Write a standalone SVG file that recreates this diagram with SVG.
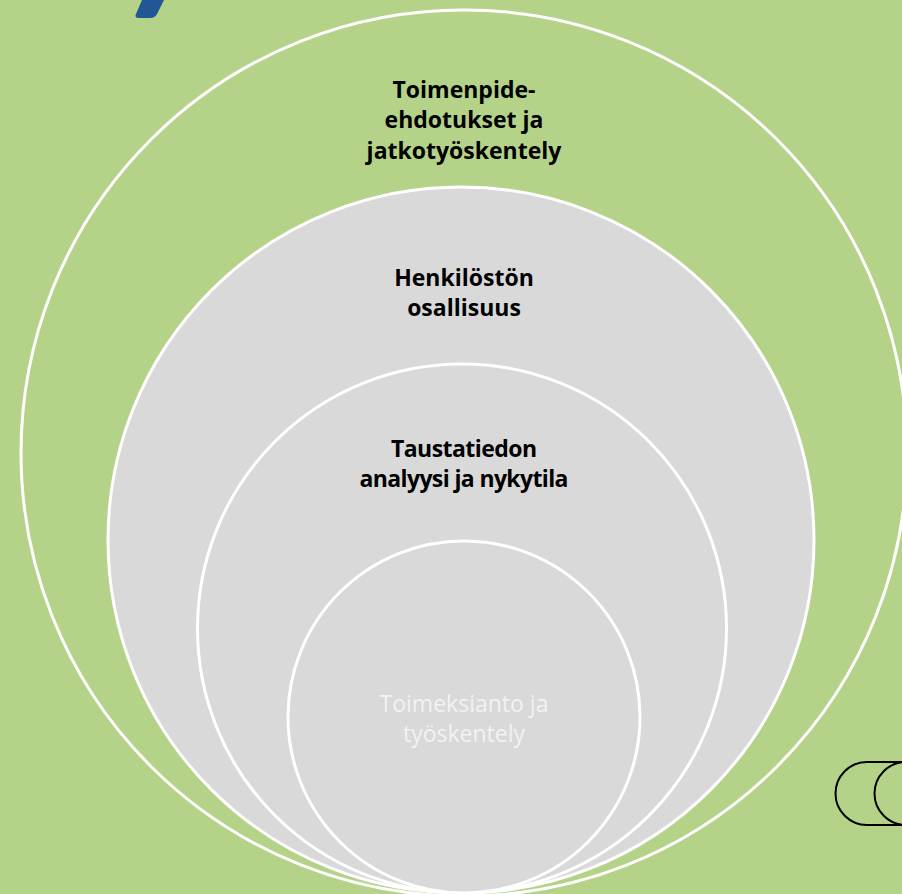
<svg xmlns="http://www.w3.org/2000/svg" width="902" height="894" viewBox="0 0 902 894">
<style>
.ring{stroke:#ffffff;stroke-width:3}
.lbl{font-family:"Open Sans","Liberation Sans",sans-serif;font-size:23px;font-weight:700;fill:#000;text-anchor:middle}
.lbl2{font-family:"Open Sans","Liberation Sans",sans-serif;font-size:23px;font-weight:400;fill:#f2f2f2;text-anchor:middle}
</style>
<rect x="0" y="0" width="902" height="894" fill="#b4d389"/>
<path d="M142,0 L164,0 L157,14 Q155,18 150,18 L139,18 Q134,18 136,14 Z" fill="#215795"/>
<g id="node-outer">
<circle class="ring" cx="464" cy="453" r="443" fill="#b4d389"/>
<text class="lbl" x="464" y="98">Toimenpide-</text>
<text class="lbl" x="464" y="128">ehdotukset ja</text>
<text class="lbl" x="464" y="159">jatkotyöskentely</text>
</g>
<g id="node-2">
<circle class="ring" cx="461" cy="540" r="353" fill="#d9d9d9"/>
<text class="lbl" x="464" y="286">Henkilöstön</text>
<text class="lbl" x="464" y="316">osallisuus</text>
</g>
<g id="node-3">
<circle class="ring" cx="462" cy="628.5" r="264.5" fill="#d9d9d9"/>
<text class="lbl" x="464" y="457" textLength="146">Taustatiedon</text>
<text class="lbl" x="464" y="487" textLength="209">analyysi ja nykytila</text>
</g>
<g id="node-4">
<circle class="ring" cx="464" cy="717" r="176" fill="#d9d9d9"/>
<text class="lbl2" x="464" y="712">Toimeksianto ja</text>
<text class="lbl2" x="464" y="742">työskentely</text>
</g>
<g id="connectors"></g>
<g id="deco" fill="none" stroke="#000" stroke-width="2">
<path d="M903,762 L867,762 A31.5,31.5 0 0 0 867,825 L903,825"/>
<path d="M906,762 A31.5,31.5 0 0 0 906,825"/>
</g>
</svg>
